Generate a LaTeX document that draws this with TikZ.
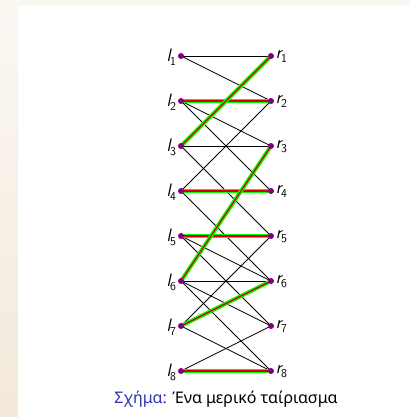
\documentclass[tikz,border=0pt]{standalone}
\usepackage{fontspec}
\newfontfamily\greekfont{Noto Sans}
\usepackage{tikz}
\usetikzlibrary{backgrounds}
\definecolor{dotpurple}{RGB}{128, 0, 128}
\definecolor{capblue}{RGB}{51, 51, 179}
\definecolor{framelight}{RGB}{250, 247, 242}
\definecolor{framedark}{RGB}{243, 233, 220}
\newcommand{\vlab}[2]{{\sffamily\slshape #1}\kern-0.5pt\raisebox{-0.5ex}{\sffamily\fontsize{12}{14}\selectfont #2}}

\tikzset{
  vert/.style={circle, fill=dotpurple, inner sep=0pt, minimum size=6pt},
  edge/.style={black, line width=0.8pt},
  matchgreen/.style={green, line width=4pt},
  matchred/.style={red!85!black, line width=1.2pt}
}

\begin{document}
\begin{tikzpicture}[x=1pt, y=1pt, font=\fontsize{18}{21}\selectfont]
        \useasboundingbox (0,0) rectangle (410,417);
        % vertices
        \foreach \i in {1,...,8} {
          \node[vert, label={[inner sep=1.5pt, yshift=-1pt]left:\vlab{l}{\i}}] (l\i) at (181, {361-45*(\i-1)}) {};
          \node[vert, label={[inner sep=1.5pt, yshift=-1pt]right:\vlab{r}{\i}}] (r\i) at (271, {361-45*(\i-1)}) {};
        }
        \begin{pgfonlayer}{background}
          \fill[white] (0,0) rectangle (410,417);
          \shade[top color=framelight, bottom color=framedark] (0,0) rectangle (18,417);
          \fill[framelight] (0,411) rectangle (410,417);
          % plain edges
          \foreach \a/\b in {1/1,1/2,2/3,2/4,3/3,3/5,4/2,4/6,5/6,5/7,6/6,6/7,6/8,7/5,7/8,8/7}
            \draw[edge] (l\a.center) -- (r\b.center);
          % the matching
          \foreach \a/\b in {2/2,3/1,4/4,5/5,6/3,7/6,8/8} {
            \draw[matchgreen] (l\a.center) -- (r\b.center);
            \draw[matchred] (l\a.center) -- (r\b.center);
          }
        \end{pgfonlayer}
        \node[anchor=base, font=\fontsize{16}{19}\selectfont] (caption) at (226, 13) {\greekfont{\color{capblue}Σχήμα:} Ένα μερικό ταίριασμα};
      \end{tikzpicture}
\end{document}
